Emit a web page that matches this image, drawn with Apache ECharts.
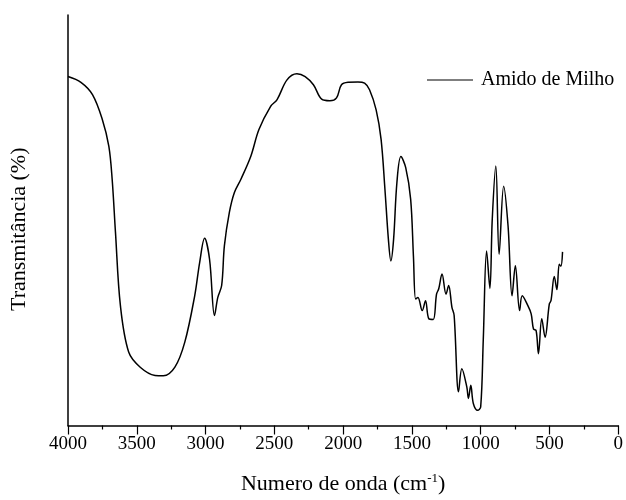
<!DOCTYPE html>
<html>
<head>
<meta charset="utf-8">
<script src="https://cdn.jsdelivr.net/npm/echarts@6/dist/echarts.min.js"></script>
<style>
html,body{margin:0;padding:0;background:#fff;}
#chart{width:626px;height:500px;}
</style>
</head>
<body>
<div id="chart"></div>
<script>
// Wavenumbers (cm-1)
const wavenumbers = [4000,3906,3822,3750,3703,3679,3655,3619,3559,3475,3367,3307,3223,3151,3079,3043,3007,2971,2935,2911,2883,2863,2827,2791,2743,2671,2612,2528,2480,2408,2336,2276,2216,2156,2096,2048,2012,1964,1892,1844,1808,1760,1724,1696,1671,1653,1633,1609,1580,1545,1509,1489,1473,1456,1425,1401,1377,1345,1321,1305,1281,1252,1233,1209,1193,1161,1137,1101,1089,1072,1053,1022,1000,981,957,933,916,890,866,833,801,772,748,717,698,657,633,616,597,580,556,532,501,489,465,446,429,417,405];
// Transmittance (arbitrary %)
const transmittance = [85.0,83.6,80.6,74.5,68.0,60.0,47.1,29.2,17.9,14.2,12.2,12.1,14.2,20.3,31.6,39.7,45.6,40.5,26.8,31.2,34.1,43.8,51.9,56.7,60.0,65.6,72.1,77.7,79.4,84.2,85.7,85.0,83.0,79.5,79.1,79.8,83.0,83.6,83.7,83.4,81.8,76.9,69.7,57.5,45.4,40.1,45.4,59.2,65.5,62.8,55.1,41.3,30.8,31.2,28.0,30.4,26.0,25.8,32.0,33.3,36.9,32.0,34.1,28.8,26.8,8.2,13.8,9.4,6.6,9.8,5.3,3.7,4.5,21.1,42.5,33.4,50.2,63.2,41.7,58.3,48.6,31.6,38.9,28.0,31.6,29.2,27.2,23.5,23.1,17.5,26.0,21.5,29.6,30.4,36.3,33.1,39.3,38.8,42.3];
const seriesName = 'Amido de Milho';
const xTitle = 'Numero de onda (cm{sup|-1})';
const yTitle = 'Transmitância (%)';

const data = wavenumbers.map((w, i) => [w, transmittance[i]]);
const font = '"Liberation Serif", "Times New Roman", serif';

const chart = echarts.init(document.getElementById('chart'));
chart.setOption({
  animation: false,
  backgroundColor: '#fff',
  grid: {left: 67, right: 3, top: 15, bottom: 73, containLabel: false},
  legend: {
    left: 422, top: 65,
    icon: 'rect', itemWidth: 46, itemHeight: 1.2,
    textStyle: {fontFamily: font, fontSize: 20, color: '#000', padding: [0,0,0,3]},
    data: [seriesName]
  },
  xAxis: {
    type: 'value', inverse: true, min: 0, max: 4000, interval: 500,
    name: xTitle, nameLocation: 'middle', nameGap: 47,
    nameTextStyle: {fontFamily: font, fontSize: 22, color: '#000',
      rich: {sup: {fontFamily: font, fontSize: 13, color: '#000', verticalAlign: 'top', padding: [0,0,10,0]}}},
    axisLine: {show: true, onZero: false, lineStyle: {color: '#000', width: 1.5}},
    axisTick: {show: true, length: 9, lineStyle: {color: '#000', width: 1.2}},
    minorTick: {show: true, splitNumber: 2, length: 4, lineStyle: {color: '#000', width: 1.2}},
    axisLabel: {fontFamily: font, fontSize: 19, color: '#000', margin: 9, formatter: v => String(v)},
    splitLine: {show: false}
  },
  yAxis: {
    type: 'value', min: 0, max: 100, position: 'left',
    name: yTitle, nameLocation: 'middle', nameGap: 38,
    nameTextStyle: {fontFamily: font, fontSize: 22, color: '#000', padding: [0, 18, 0, 0]},
    axisLine: {show: true, onZero: false, lineStyle: {color: '#000', width: 1.5}},
    axisTick: {show: false},
    axisLabel: {show: false},
    splitLine: {show: false}
  },
  series: [{
    name: seriesName, type: 'line', data: data,
    symbol: 'none', smooth: 0.35,
    lineStyle: {color: '#000', width: 1.5},
    itemStyle: {color: '#000'}
  }]
});
</script>
</body>
</html>
